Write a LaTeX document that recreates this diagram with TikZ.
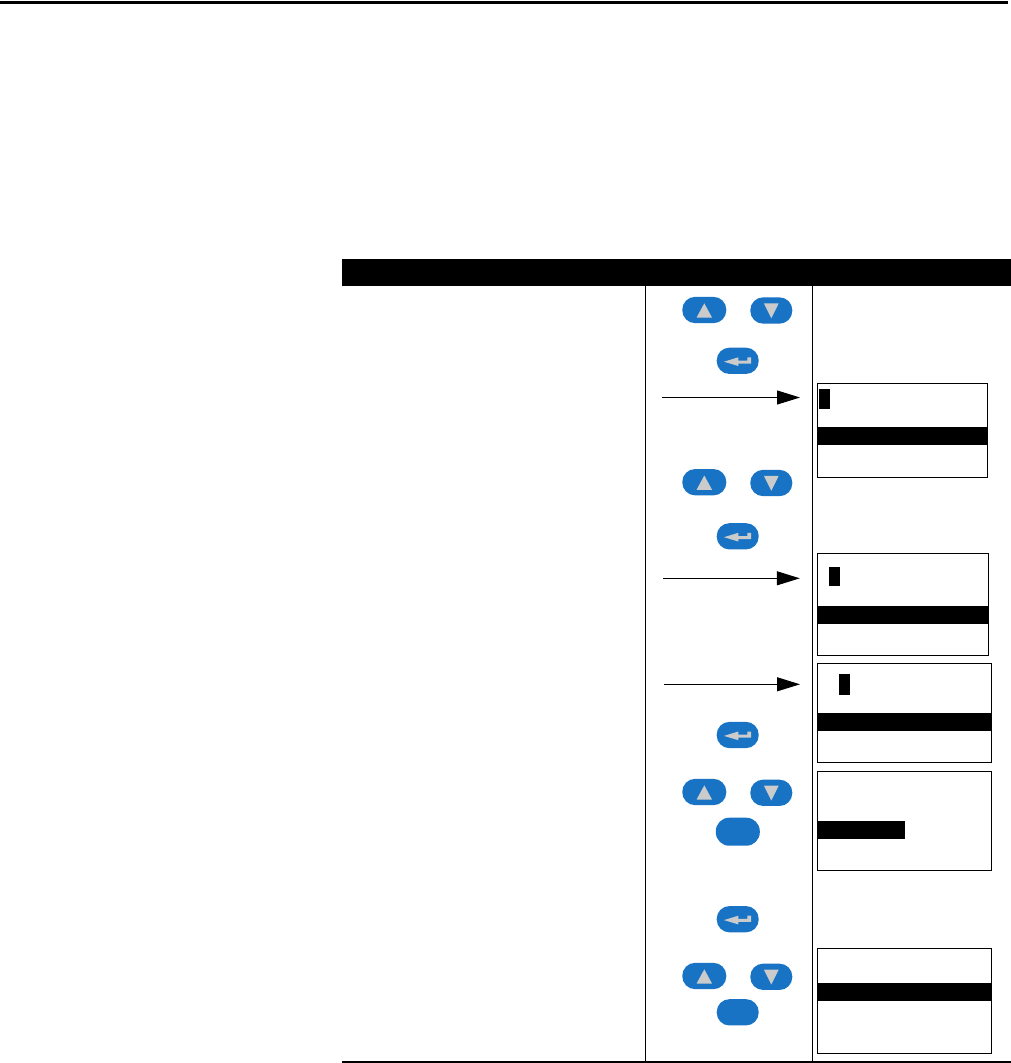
\documentclass[tikz,border=0pt]{standalone}
\usetikzlibrary{arrows.meta}
\definecolor{btnblue}{HTML}{1873C4}
\definecolor{btngrey}{HTML}{CBCBCB}
\tikzset{
  btn/.style={fill=btnblue,draw=none,rounded corners=12.8pt,inner sep=0pt,outer sep=0pt,minimum height=26.3pt,minimum width=42pt},
  btnwide/.style={btn,minimum width=44pt},
  glyph/.style={fill=btngrey,draw=none},
  screen/.style={draw=black,line width=1pt,fill=white,inner sep=0pt,outer sep=0pt},
  inv/.style={fill=black,draw=none,inner sep=0pt,outer sep=0pt},
  rule/.style={fill=black,draw=none},
  divider/.style={draw=black,line width=1pt},
  pointer/.style={draw=black,line width=1pt,shorten >=17.5pt,-{Triangle[length=23pt,width=14pt]}},
}
\newcommand{\upkey}[3]{%
  \node[btnwide] (#1) at (#2,#3) {};
  \fill[glyph] ([xshift=0pt,yshift=6.7pt]#1.center) -- ([xshift=7.8pt,yshift=-7.7pt]#1.center) -- ([xshift=-7.8pt,yshift=-7.7pt]#1.center) -- cycle;}
\newcommand{\downkey}[3]{%
  \node[btn] (#1) at (#2,#3) {};
  \fill[glyph] ([xshift=0pt,yshift=-7.8pt]#1.center) -- ([xshift=7.4pt,yshift=7.2pt]#1.center) -- ([xshift=-7.4pt,yshift=7.2pt]#1.center) -- cycle;}
\newcommand{\enterkey}[3]{%
  \node[btn] (#1) at (#2,#3) {};
  \fill[glyph] ([xshift=-13.7pt,yshift=-0.9pt]#1.center) -- ([xshift=0.6pt,yshift=3.5pt]#1.center) -- ([xshift=0.6pt,yshift=0.3pt]#1.center) -- ([xshift=9.6pt,yshift=0.3pt]#1.center) -- ([xshift=9.6pt,yshift=3.5pt]#1.center) -- ([xshift=13.3pt,yshift=3.5pt]#1.center) -- ([xshift=13.3pt,yshift=-2.7pt]#1.center) -- ([xshift=0.6pt,yshift=-2.7pt]#1.center) -- ([xshift=0.6pt,yshift=-5.2pt]#1.center) -- cycle;}
\begin{document}
\begin{tikzpicture}[x=1pt,y=-1pt]
\useasboundingbox[fill=white] (0,0) rectangle (1011,1063);
% page rule and table frame
\fill[rule] (0,1) rectangle (1008,4);
\fill[rule] (342,259) rectangle (1011,286);
\fill[rule] (342,1061) rectangle (1011,1063);
\draw[divider] (645.5,286) -- (645.5,1061);
\draw[divider] (812.5,286) -- (812.5,1061);
% keys
\upkey{u1}{704.3}{310}   \downkey{d1}{771.3}{310.5} \enterkey{e1}{737.7}{360.8}
\upkey{u2}{704.3}{482.2} \downkey{d2}{771.3}{483}   \enterkey{e2}{737.7}{536.3}
\enterkey{e3}{737.7}{735}
\upkey{u3}{704.3}{792}   \downkey{d3}{771.3}{792.8}
\node[btnwide,minimum height=28pt,rounded corners=13.5pt] (b3) at (737.8,831.7) {};
\enterkey{e4}{737.7}{919.2}
\upkey{u4}{704.3}{976}   \downkey{d4}{771.3}{976.8}
\node[btn] (b4) at (737.7,1012.3) {};
% screens
\node[screen,minimum width=170pt,minimum height=94pt] (s1) at (902.5,430.5) {};
\node[screen,minimum width=171pt,minimum height=102pt] (s2) at (902.8,604.5) {};
\node[screen,minimum width=174pt,minimum height=99pt] (s3) at (904.5,712.8) {};
\node[screen,minimum width=174pt,minimum height=99pt] (s4) at (904.5,820.8) {};
\node[screen,minimum width=174pt,minimum height=105pt] (s5) at (904.5,1000.8) {};
% highlighted text bars and cursors
\node[inv,minimum width=170pt,minimum height=18pt] (b1) at (902.5,436) {};
\node[inv,minimum width=171pt,minimum height=18pt] (bb2) at (902.8,614.7) {};
\node[inv,minimum width=174pt,minimum height=18pt] (bb3) at (904.5,722) {};
\node[inv,minimum width=87.5pt,minimum height=18pt] (bb4) at (861.5,830) {};
\node[inv,minimum width=174pt,minimum height=18pt] (bb5) at (904.5,992) {};
\node[inv,minimum width=11pt,minimum height=20pt] (c1) at (824.5,399) {};
\node[inv,minimum width=11pt,minimum height=19pt] (c2) at (834.5,576.5) {};
\node[inv,minimum width=11pt,minimum height=21pt] (c3) at (844.5,684.5) {};
% pointers
\coordinate (p1) at (662,397.5);
\coordinate (p2) at (663,578.3);
\coordinate (p3) at (664,684.3);
\draw[pointer] (p1) -- (p1 -| s1.west);
\draw[pointer] (p2) -- (p2 -| s2.west);
\draw[pointer] (p3) -- (p3 -| s3.west);
\end{tikzpicture}
\end{document}
